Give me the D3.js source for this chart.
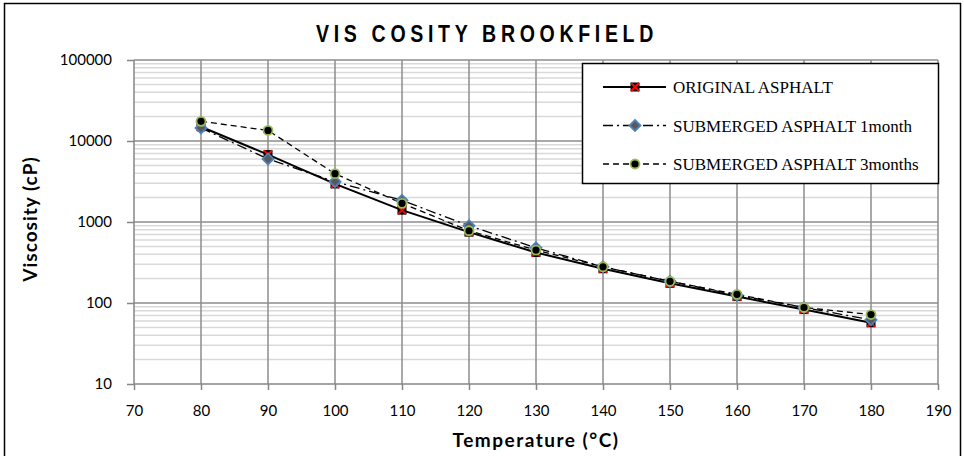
<!DOCTYPE html>
<html>
<head>
<meta charset="utf-8">
<script src="https://cdn.jsdelivr.net/npm/d3@7"></script>
<style>
  body { margin: 0; background: #fff; }
  svg { display: block; }
</style>
</head>
<body>
<div id="chart"></div>
<script>
var temps = [80, 90, 100, 110, 120, 130, 140, 150, 160, 170, 180];
var original = [15000, 6800, 2950, 1400, 750, 420, 265, 175, 120, 83, 57];
var month1 = [14500, 6000, 3150, 1850, 900, 480, 280, 185, 125, 88, 62];
var month3 = [17500, 13500, 3950, 1700, 780, 450, 280, 185, 128, 88, 72];
var seriesNames = ["ORIGINAL ASPHALT", "SUBMERGED ASPHALT 1month", "SUBMERGED ASPHALT 3months"];
var xTicks = [70, 80, 90, 100, 110, 120, 130, 140, 150, 160, 170, 180, 190];
var yTicks = [10, 100, 1000, 10000, 100000];

var W = 964, H = 456;
var margin = {top: 60, right: 26, bottom: 72, left: 134};
var width = W - margin.left - margin.right,
    height = H - margin.top - margin.bottom;

var svg = d3.select("#chart").append("svg")
    .attr("width", W)
    .attr("height", H);

svg.append("rect")
    .attr("x", 4.5).attr("y", 3.5)
    .attr("width", W - 8).attr("height", H + 10)
    .attr("fill", "#fff")
    .attr("stroke", "#000")
    .attr("stroke-width", 1.5);

var x = d3.scaleLinear().domain([70, 190]).range([0, width]);
var y = d3.scaleLog().domain([10, 100000]).range([height, 0]);

var g = svg.append("g").attr("transform", "translate(" + margin.left + "," + margin.top + ")");

// minor gridlines
var minor = [];
yTicks.slice(0, -1).forEach(function(d) {
    for (var k = 2; k <= 9; k++) minor.push(d * k);
});
g.selectAll("line.minor").data(minor).enter().append("line")
    .attr("class", "minor")
    .attr("x1", 0).attr("x2", width)
    .attr("y1", function(d) { return y(d); })
    .attr("y2", function(d) { return y(d); })
    .attr("stroke", "#d9d9d9")
    .attr("stroke-width", 1.5);

g.selectAll("line.vgrid").data(xTicks.slice(1)).enter().append("line")
    .attr("class", "vgrid")
    .attr("x1", function(d) { return x(d); })
    .attr("x2", function(d) { return x(d); })
    .attr("y1", 0).attr("y2", height)
    .attr("stroke", "#8c8c8c")
    .attr("stroke-width", 1.5);

g.selectAll("line.hgrid").data(yTicks.slice(1)).enter().append("line")
    .attr("class", "hgrid")
    .attr("x1", 0).attr("x2", width)
    .attr("y1", function(d) { return y(d); })
    .attr("y2", function(d) { return y(d); })
    .attr("stroke", "#8c8c8c")
    .attr("stroke-width", 1.5);

// axes
var xAxis = d3.axisBottom(x).tickValues(xTicks).tickSize(6).tickPadding(15).tickFormat(d3.format("d"));
var yAxis = d3.axisLeft(y).tickValues(yTicks).tickSize(7).tickPadding(15).tickFormat(d3.format("d"));

var gx = g.append("g").attr("transform", "translate(0," + height + ")").call(xAxis);
var gy = g.append("g").call(yAxis);

[gx, gy].forEach(function(a) {
    a.select(".domain").attr("stroke", "#868686").attr("stroke-width", 1.5);
    a.selectAll(".tick line").attr("stroke", "#868686").attr("stroke-width", 1.5);
    a.selectAll(".tick text")
        .attr("fill", "#000")
        .style("font-family", "Lato, 'Open Sans', sans-serif")
        .style("font-size", "15px");
});
gx.select(".domain").attr("d", "M0,0H" + width);
gy.select(".domain").attr("d", "M0," + height + "V0");

// series
var series = [
    {name: seriesNames[0], values: original, dash: null, sw: 2},
    {name: seriesNames[1], values: month1, dash: "10,4,2,4", sw: 1.3},
    {name: seriesNames[2], values: month3, dash: "6,4", sw: 1.3}
];

var line = d3.line()
    .x(function(d, i) { return x(temps[i]); })
    .y(function(d) { return y(d); });

series.forEach(function(s) {
    g.append("path")
        .datum(s.values)
        .attr("d", line)
        .attr("fill", "none")
        .attr("stroke", "#000")
        .attr("stroke-width", s.sw)
        .attr("stroke-dasharray", s.dash);
});

function drawMarker(sel, k) {
    if (k === 0) {
        sel.append("rect").attr("x", -4.5).attr("y", -4.5).attr("width", 9).attr("height", 9).attr("fill", "#000");
        sel.append("path").attr("d", "M-4,-4L4,4M4,-4L-4,4").attr("stroke", "#ff0000").attr("stroke-width", 2);
    } else if (k === 1) {
        sel.append("path").attr("d", "M0,-5.5L5.5,0L0,5.5L-5.5,0Z")
            .attr("fill", "#595959").attr("stroke", "#4f81bd").attr("stroke-width", 1.8);
    } else {
        sel.append("circle").attr("r", 4.5)
            .attr("fill", "#000").attr("stroke", "#9bbb59").attr("stroke-width", 1.8);
    }
}

series.forEach(function(s, k) {
    g.selectAll("g.m" + k).data(s.values).enter().append("g")
        .attr("class", "m" + k)
        .attr("transform", function(d, i) { return "translate(" + x(temps[i]) + "," + y(d) + ")"; })
        .each(function() { drawMarker(d3.select(this), k); });
});

// title and axis titles
svg.append("text")
    .attr("transform", "translate(487,42) scale(0.85,1)")
    .attr("text-anchor", "middle")
    .style("font-family", "'Liberation Sans', Arial, sans-serif")
    .style("font-weight", "bold")
    .style("font-size", "23px")
    .style("letter-spacing", "5.5px")
    .text("VIS COSITY BROOKFIELD");

svg.append("text")
    .attr("transform", "translate(37," + (margin.top + height / 2 - 3) + ") rotate(-90)")
    .attr("text-anchor", "middle")
    .style("font-family", "Lato, 'Open Sans', sans-serif")
    .style("font-weight", "bold")
    .style("font-size", "19px")
    .style("letter-spacing", "1px")
    .text("Viscosity (cP)");

svg.append("text")
    .attr("x", margin.left + width / 2).attr("y", 447)
    .attr("text-anchor", "middle")
    .style("font-family", "Lato, 'Open Sans', sans-serif")
    .style("font-weight", "bold")
    .style("font-size", "19px")
    .style("letter-spacing", "1.5px")
    .text("Temperature (°C)");

// legend
var legend = svg.append("g").attr("transform", "translate(582,63)");
legend.append("rect")
    .attr("x", 0.5).attr("y", 0.5)
    .attr("width", 356).attr("height", 120)
    .attr("fill", "#fff")
    .attr("stroke", "#000")
    .attr("stroke-width", 1.5);

series.forEach(function(s, k) {
    var row = legend.append("g").attr("transform", "translate(0," + (24 + k * 38.5) + ")");
    row.append("line")
        .attr("x1", 21).attr("x2", 84)
        .attr("stroke", "#000")
        .attr("stroke-width", s.sw)
        .attr("stroke-dasharray", s.dash);
    var m = row.append("g").attr("transform", "translate(53,0)");
    drawMarker(m, k);
    row.append("text")
        .attr("x", 91).attr("y", 6)
        .style("font-family", "'Liberation Serif', 'Times New Roman', serif")
        .style("font-size", "17px")
        .text(s.name);
});
</script>
</body>
</html>
